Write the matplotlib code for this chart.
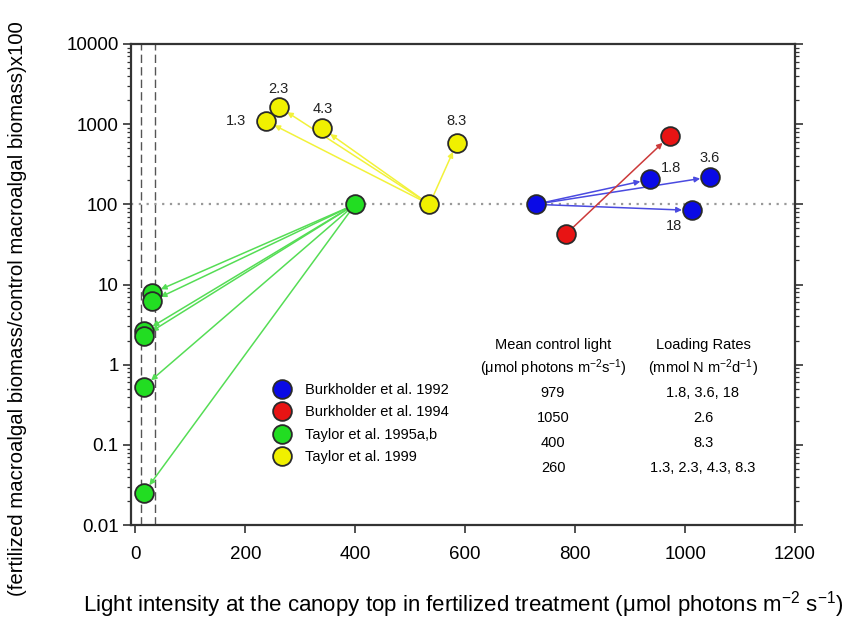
import numpy as np
import matplotlib.pyplot as plt
from matplotlib.lines import Line2D
from matplotlib.ticker import LogLocator, FixedLocator, FuncFormatter

plt.rcParams['font.family'] = ['Liberation Sans', 'DejaVu Sans']
plt.rcParams['mathtext.fontset'] = 'custom'
plt.rcParams['mathtext.rm'] = 'Liberation Sans'
plt.rcParams['mathtext.it'] = 'Liberation Sans:italic'

# ---- data ----
# Burkholder et al. 1992 (blue)
blue_x0, blue_y0 = 728, 100
blue_x = [936, 1045, 1012]
blue_y = [205, 219, 84]
blue_lab = ['1.8', '3.6', '18']

# Burkholder et al. 1994 (red)
red_x0, red_y0 = 784, 43
red_x = [972]
red_y = [708]

# Taylor et al. 1995a,b (green)
green_x0, green_y0 = 400, 100
green_x = [30, 30, 16, 15, 15, 15]
green_y = [7.8, 6.2, 2.6, 2.26, 0.53, 0.025]

# Taylor et al. 1999 (yellow)
yel_x0, yel_y0 = 535, 100
yel_x = [237, 261, 340, 585]
yel_y = [1100, 1645, 884, 584]
yel_lab = ['1.3', '2.3', '4.3', '8.3']

studies = ['Burkholder et al. 1992', 'Burkholder et al. 1994',
           'Taylor et al. 1995a,b', 'Taylor et al. 1999']
ctrl_light = ['979', '1050', '400', '260']
load_rates = ['1.8, 3.6, 18', '2.6', '8.3', '1.3, 2.3, 4.3, 8.3']

dashed_x = [10, 35]

fig = plt.figure(figsize=(8.5, 6.21), dpi=100)
ax = fig.add_axes([131/850, 1-525/621, 664/850, 481/621])
ax.set_yscale('log')
ax.set_xlim(-8, 1200)
ax.set_ylim(0.01, 10000)

for xv in dashed_x:
    ax.axvline(xv, color='#555555', lw=1.0, ls=(0, (6, 3)), zorder=1)
ax.axhline(100, color='#999999', lw=1.6, ls=(0, (1, 2.5)), zorder=1)

mk = dict(marker='o', ms=13.5, mec='#2a2a2a', mew=1.3, ls='none', zorder=5)


def arrows(x0, y0, xs, ys, col):
    for xx, yy in zip(xs, ys):
        ax.annotate('', xy=(xx, yy), xytext=(x0, y0),
                    arrowprops=dict(arrowstyle='-|>', color=col, lw=1.1,
                                    mutation_scale=8, shrinkA=0, shrinkB=7),
                    zorder=3)


arrows(green_x0, green_y0, green_x, green_y, '#55dd55')
arrows(yel_x0, yel_y0, yel_x, yel_y, '#f2f23a')
arrows(blue_x0, blue_y0, blue_x, blue_y, '#4a4ae0')
arrows(red_x0, red_y0, red_x, red_y, '#cc3a3a')

c_blue, c_red, c_green, c_yel = '#0a0ae6', '#e81414', '#22dd22', '#f0f000'
ax.plot(green_x, green_y, mfc=c_green, **mk)
ax.plot([green_x0], [green_y0], mfc=c_green, **mk)
ax.plot(yel_x, yel_y, mfc=c_yel, **mk)
ax.plot([yel_x0], [yel_y0], mfc=c_yel, **mk)
ax.plot(blue_x, blue_y, mfc=c_blue, **mk)
ax.plot([blue_x0], [blue_y0], mfc=c_blue, **mk)
ax.plot(red_x, red_y, mfc=c_red, **mk)
ax.plot([red_x0], [red_y0], mfc=c_red, **mk)

# point labels (offsets in points)
yel_off = [(-14, 0), (0, 13), (0, 14), (0, 16)]
yel_ha = ['right', 'center', 'center', 'center']
for xx, yy, t, o, h in zip(yel_x, yel_y, yel_lab, yel_off, yel_ha):
    ax.annotate(t, (xx, yy), xytext=o, textcoords='offset points',
                ha=h, va='center', fontsize=10.5, color='#222222')
blue_off = [(15, 8), (0, 14), (-13, -11)]
for xx, yy, t, o in zip(blue_x, blue_y, blue_lab, blue_off):
    ax.annotate(t, (xx, yy), xytext=o, textcoords='offset points',
                ha='center', va='center', fontsize=10.5, color='#222222')

# ticks / spines
ax.set_xticks(np.arange(0, 1201, 200))
ax.yaxis.set_major_locator(FixedLocator([0.01, 0.1, 1, 10, 100, 1000, 10000]))
ax.yaxis.set_minor_locator(LogLocator(base=10, subs=np.arange(2, 10)))
ax.yaxis.set_major_formatter(FuncFormatter(lambda v, p: '%g' % v))
ax.tick_params(axis='both', which='major', direction='out', length=6,
               width=1.2, color='#333333', labelsize=13.5, pad=3)
ax.tick_params(axis='y', which='minor', direction='out', length=3,
               width=0.9, color='#333333')
ax.tick_params(axis='y', which='both', right=True, labelright=False)
ax.tick_params(axis='x', which='minor', bottom=False)
ax.tick_params(axis='x', pad=9)
for s in ax.spines.values():
    s.set_color('#333333')
    s.set_linewidth(1.6)

ax.set_xlabel('Light intensity at the canopy top in fertilized treatment (μmol photons m$^{-2}$ s$^{-1}$)',
              fontsize=16, va='center')
ax.xaxis.set_label_coords(0.5, -(605 - 525) / 481)
ax.set_ylabel('(fertilized macroalgal biomass/control macroalgal biomass)x100',
              fontsize=14.7, va='center')
ax.yaxis.set_label_coords(-(131 - 18) / 664, (525 - 309) / 481)

# legend
handles = [Line2D([], [], marker='o', ls='none', ms=13.5, mfc=c, mec='#2a2a2a', mew=1.3)
           for c in [c_blue, c_red, c_green, c_yel]]
fig.legend(handles, studies, loc='upper left', bbox_to_anchor=(273/850, 1-383/621),
           frameon=False, fontsize=10.5, handletextpad=0.9, labelspacing=0.58,
           borderaxespad=0, borderpad=0, handlelength=1.3)

# little table
tx1, tx2 = 553/850, 703/850
fig.text(tx1, 1-345/621, 'Mean control light', ha='center', va='center', fontsize=10.5)
fig.text(tx1, 1-368/621, '(μmol photons m$^{-2}$s$^{-1}$)', ha='center', va='center', fontsize=10.5)
fig.text(tx2, 1-345/621, 'Loading Rates', ha='center', va='center', fontsize=10.5)
fig.text(tx2, 1-368/621, '(mmol N m$^{-2}$d$^{-1}$)', ha='center', va='center', fontsize=10.5)
for i, (a, b) in enumerate(zip(ctrl_light, load_rates)):
    yy = 1 - (393 + 25 * i) / 621
    fig.text(tx1, yy, a, ha='center', va='center', fontsize=10.5)
    fig.text(tx2, yy, b, ha='center', va='center', fontsize=10.5)

fig.savefig('out.png', dpi=100)
